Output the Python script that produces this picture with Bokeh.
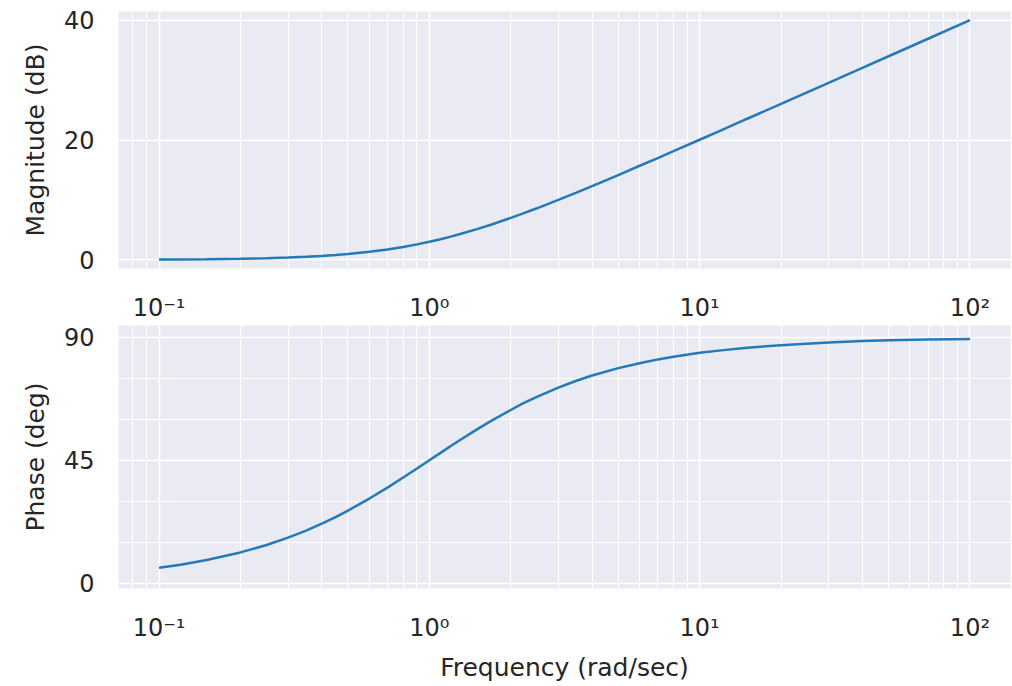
from bokeh.plotting import figure
from bokeh.layouts import column
from bokeh.models import FixedTicker, Range1d
from bokeh.embed import file_html
from bokeh.resources import INLINE

# Values
freq = [0.1, 0.12, 0.15, 0.2, 0.25, 0.3, 0.35, 0.4, 0.45, 0.5, 0.6, 0.7, 0.8,
        0.9, 1.0, 1.1, 1.2, 1.3, 1.5, 1.7, 2.0, 2.2, 2.5, 3.0, 3.5, 4.0, 5.0,
        6.0, 7.0, 8.0, 10.0, 12.0, 15.0, 20.0, 30.0, 40.0, 50.0, 70.0, 100.0]
magnitude_db = [0.04, 0.06, 0.10, 0.17, 0.26, 0.37, 0.50, 0.64, 0.80, 0.97, 1.34,
                1.73, 2.15, 2.58, 3.01, 3.44, 3.87, 4.30, 5.12, 5.90, 6.99, 7.66,
                8.60, 10.0, 11.22, 12.3, 14.15, 15.7, 16.99, 18.13, 20.04, 21.6,
                23.55, 26.03, 29.55, 32.05, 33.98, 36.9, 40.0]
phase_deg = [5.7, 6.8, 8.5, 11.3, 14.0, 16.7, 19.3, 21.8, 24.2, 26.6, 31.0, 35.0,
             38.7, 42.0, 45.0, 47.7, 50.2, 52.4, 56.3, 59.5, 63.4, 65.6, 68.2,
             71.6, 74.1, 76.0, 78.7, 80.5, 81.9, 82.9, 84.3, 85.2, 86.2, 87.1,
             88.1, 88.6, 88.9, 89.2, 89.4]

x_major = [0.1, 1.0, 10.0, 100.0]
x_labels = {0.1: "10\u207b\u00b9", 1.0: "10\u2070", 10.0: "10\u00b9", 100.0: "10\u00b2"}
mag_ticks = [0, 20, 40]
phase_ticks = [0, 45, 90]
phase_minor = [15, 30, 60, 75]

x_minor = []
for dec in [0.01, 0.1, 1.0, 10.0]:
    for k in range(2, 10):
        x_minor.append(round(dec * k, 6))

BG = "#EAEAF2"
TXT = "#262626"
LINE = "#2479b8"
FONT = "DejaVu Sans"
W = 1012
LEFT = 118
RIGHT = 2
xr = (0.1 * 10 ** -0.15, 100 * 10 ** 0.15)


def style(p, yticks, yminor, ylabel, xlabel=None):
    p.background_fill_color = BG
    p.border_fill_color = "white"
    p.outline_line_color = None
    p.xaxis.ticker = FixedTicker(ticks=x_major, minor_ticks=x_minor)
    p.xaxis.major_label_overrides = x_labels
    p.yaxis.ticker = FixedTicker(ticks=yticks, minor_ticks=yminor)
    for ax in [p.xaxis[0], p.yaxis[0]]:
        ax.axis_line_color = None
        ax.major_tick_line_color = None
        ax.minor_tick_line_color = None
        ax.major_tick_in = 0
        ax.major_tick_out = 0
        ax.minor_tick_in = 0
        ax.minor_tick_out = 0
        ax.major_label_text_font = FONT
        ax.major_label_text_font_size = "24px"
        ax.major_label_text_color = TXT
        ax.axis_label_text_font = FONT
        ax.axis_label_text_font_size = "25px"
        ax.axis_label_text_font_style = "normal"
        ax.axis_label_text_color = TXT
    p.xaxis.major_label_standoff = 25
    p.yaxis.major_label_standoff = 24
    p.yaxis.axis_label = ylabel
    p.yaxis.axis_label_standoff = 11
    if xlabel:
        p.xaxis.axis_label = xlabel
        p.xaxis.axis_label_standoff = 8
    p.xgrid.grid_line_color = "white"
    p.xgrid.grid_line_width = 1.6
    p.xgrid.minor_grid_line_color = "white"
    p.xgrid.minor_grid_line_width = 1.0
    p.ygrid.grid_line_color = "white"
    p.ygrid.grid_line_width = 1.6
    p.ygrid.minor_grid_line_color = "white"
    p.ygrid.minor_grid_line_width = 1.0


p1 = figure(width=W, height=324, x_axis_type="log", output_backend="svg",
            toolbar_location=None, x_range=Range1d(*xr), y_range=Range1d(-1.45, 41.45),
            min_border_left=LEFT, min_border_right=RIGHT, min_border_top=11,
            min_border_bottom=54)
style(p1, mag_ticks, [], "Magnitude (dB)")
p1.line(freq, magnitude_db, line_color=LINE, line_width=2.5)

p2 = figure(width=W, height=362, x_axis_type="log", output_backend="svg",
            toolbar_location=None, x_range=Range1d(*xr), y_range=Range1d(-1.9, 94.3),
            min_border_left=LEFT, min_border_right=RIGHT, min_border_top=1,
            min_border_bottom=98)
style(p2, phase_ticks, phase_minor, "Phase (deg)", "Frequency (rad/sec)")
p2.line(freq, phase_deg, line_color=LINE, line_width=2.5)

layout = column(p1, p2, spacing=0)
open("out.html", "w").write(file_html(layout, INLINE))
